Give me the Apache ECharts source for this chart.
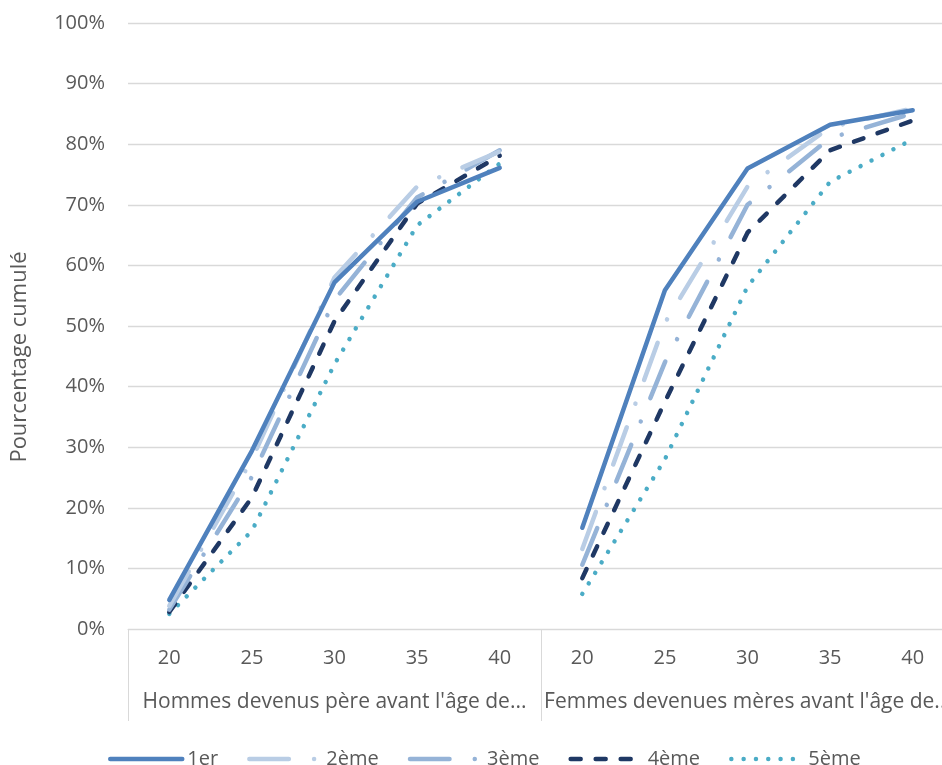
<!DOCTYPE html>
<html>
<head>
<meta charset="utf-8">
<script src="https://cdn.jsdelivr.net/npm/echarts@6/dist/echarts.min.js"></script>
<style>
  html, body { margin: 0; padding: 0; background: #ffffff; overflow: hidden; }
  #chart { width: 942px; height: 765px; }
</style>
</head>
<body>
<div id="chart"></div>
<script>
// Ages (both groups share the same five ages)
const ages = ['20', '25', '30', '35', '40'];
const groups = ["Hommes devenus père avant l'âge de...", "Femmes devenues mères avant l'âge de..."];
const rankNames = ['1er', '2ème', '3ème', '4ème', '5ème'];

// Cumulative share (%) of men who became fathers before each age, by birth rank
const men1 = [4.8, 29.4, 57.2, 70.5, 76.1];
const men2 = [3.8, 28.0, 58.0, 73.0, 78.8];
const men3 = [3.2, 25.1, 54.3, 71.2, 79.0];
const men4 = [2.8, 21.7, 50.8, 70.2, 78.1];
const men5 = [2.5, 16.2, 43.7, 66.6, 76.8];

// Cumulative share (%) of women who became mothers before each age, by birth rank
const women1 = [16.7, 55.9, 76.0, 83.2, 85.6];
const women2 = [13.2, 50.5, 73.0, 82.8, 85.9];
const women3 = [10.6, 44.0, 70.0, 81.0, 85.1];
const women4 = [8.4, 37.5, 65.4, 79.0, 83.9];
const women5 = [5.8, 28.0, 56.5, 73.8, 80.8];

const yTicks = [0, 10, 20, 30, 40, 50, 60, 70, 80, 90, 100];

const menSeries = [men1, men2, men3, men4, men5];
const womenSeries = [women1, women2, women3, women4, women5];

// Line looks per rank
const rankStyles = [
  { color: '#4F81BD', type: 'solid' },
  { color: '#B9CDE5', type: [39.5, 25.25, 0.01, 25.25] },
  { color: '#95B3D7', type: [39.5, 25.25, 0.01, 25.25] },
  { color: '#1F3864', type: [10, 15] },
  { color: '#4BACC6', type: [0.01, 12.3] }
];

const categories = ages.concat(ages);
const blank = ages.map(() => '-');

const series = [];
rankNames.forEach((name, i) => {
  const st = rankStyles[i];
  const lineStyle = { color: st.color, width: 4.5, type: st.type, cap: 'round', join: 'round' };
  // men on the left half, women on the right half; lines break between groups
  series.push({
    name: name, type: 'line', xAxisIndex: 0, symbol: 'none',
    data: menSeries[i].concat(blank),
    itemStyle: { color: st.color }, lineStyle: lineStyle, z: 10 - i
  });
  series.push({
    name: name, type: 'line', xAxisIndex: 0, symbol: 'none',
    data: blank.concat(womenSeries[i]),
    itemStyle: { color: st.color }, lineStyle: lineStyle, z: 10 - i
  });
});

const font = 'Open Sans, DejaVu Sans, sans-serif';
const textColor = '#595959';
const gridColor = '#D9D9D9';

const chart = echarts.init(document.getElementById('chart'), null, { renderer: 'canvas' });
chart.setOption({
  animation: false,
  backgroundColor: '#ffffff',
  grid: { left: 128, top: 23, width: 826, height: 606, containLabel: false, outerBoundsMode: 'none' },
  legend: {
    data: rankNames,
    left: 103, top: 744,
    itemWidth: 72, itemHeight: 14, itemGap: 29,
    textStyle: { color: textColor, fontSize: 20, fontFamily: font, padding: [0, 0, 0, 0] },
    lineStyle: { width: 4.5 },
    itemStyle: { opacity: 0 }
  },
  xAxis: [
    {
      type: 'category', data: categories, position: 'bottom',
      boundaryGap: true,
      axisLine: { show: true, lineStyle: { color: gridColor, width: 1 } },
      axisTick: { show: false },
      axisLabel: { color: textColor, fontSize: 20, fontFamily: font, margin: 19, interval: 0 },
      splitLine: { show: false }
    },
    {
      type: 'category', data: groups, position: 'bottom',
      boundaryGap: true,
      axisLine: { show: false },
      axisTick: { show: true, length: 92, lineStyle: { color: gridColor, width: 1 } },
      axisLabel: { color: textColor, fontSize: 21, fontFamily: font, margin: 63, interval: 0 },
      splitLine: { show: false }
    }
  ],
  yAxis: {
    type: 'value', min: yTicks[0], max: yTicks[yTicks.length - 1], interval: 10,
    axisLine: { show: false },
    axisTick: { show: false },
    axisLabel: { color: textColor, fontSize: 20, fontFamily: font, margin: 23, formatter: '{value}%' },
    splitLine: { show: true, lineStyle: { color: gridColor, width: 1.3 } }
  },
  graphic: [{
    type: 'text',
    x: 20, y: 357,
    rotation: Math.PI / 2,
    style: {
      text: 'Pourcentage cumulé',
      fill: textColor, fontSize: 22, fontFamily: font,
      align: 'center', verticalAlign: 'middle'
    }
  }],
  series: series
});
</script>
</body>
</html>
